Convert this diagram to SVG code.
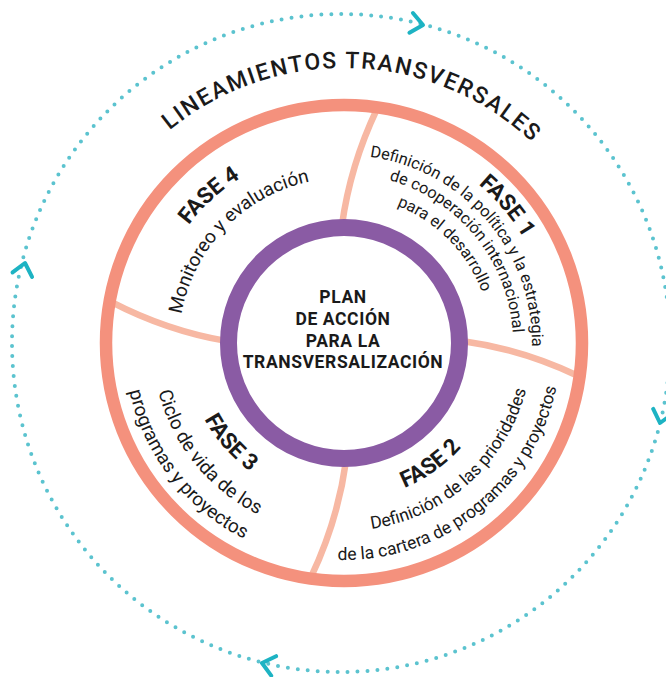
<svg xmlns="http://www.w3.org/2000/svg" xmlns:xlink="http://www.w3.org/1999/xlink" width="666" height="677" viewBox="0 0 666 677">
<style>
.t{font-family:Roboto,"Noto Sans","Liberation Sans",sans-serif;fill:#1a1a1a}
.title{font-size:23px;font-weight:500;letter-spacing:1.7px}
.fase{font-size:22.5px;font-weight:700}
.d1{font-size:16.3px;font-weight:400}
.d2{font-size:17.5px;font-weight:400}
.d3{font-size:19px;font-weight:400}
.center{font-size:17.5px;font-weight:700;letter-spacing:0.6px}
.div{fill:none;stroke:#f7b8a3;stroke-width:6.5}
.chev{fill:none;stroke:#1db3c3;stroke-width:4;stroke-linecap:round;stroke-linejoin:round}
</style>
<defs>
<path id="t275" d="M69,343 A275,275 0 0 1 619,343"/>
<path id="t208" d="M136,343 A208,208 0 0 1 552,343"/>
<path id="t188" d="M156,343 A188,188 0 0 1 532,343"/>
<path id="t169" d="M175,343 A169,169 0 0 1 513,343"/>
<path id="t147" d="M197,343 A147,147 0 0 1 491,343"/>
<path id="t195" d="M149,343 A195,195 0 0 1 539,343"/>
<path id="t165" d="M179,343 A165,165 0 0 1 509,343"/>
<path id="b157" d="M187,343 A157,157 0 0 0 501,343"/>
<path id="b188" d="M156,343 A188,188 0 0 0 532,343"/>
<path id="b217" d="M127,343 A217,217 0 0 0 561,343"/>
<path id="b159" d="M185,343 A159,159 0 0 0 503,343"/>
<path id="b192" d="M152,343 A192,192 0 0 0 536,343"/>
<path id="b220" d="M124,343 A220,220 0 0 0 564,343"/>
<path id="chevron" d="M-12,-10 L0,0 L-12,10"/>
<path id="divider" d="M342,225 Q350.2,165.4 376.8,109.3"/>
</defs>

<g id="cycle">
<circle cx="341" cy="343" r="329" fill="none" stroke="#5bc3cf" stroke-width="4" stroke-linecap="round" stroke-dasharray="0 10"/>
<use xlink:href="#chevron" href="#chevron" class="chev" transform="translate(423,25) rotate(10)"/>
<use xlink:href="#chevron" href="#chevron" class="chev" transform="translate(25,263) rotate(-77)"/>
<use xlink:href="#chevron" href="#chevron" class="chev" transform="translate(660,423) rotate(104)"/>
<use xlink:href="#chevron" href="#chevron" class="chev" transform="translate(262,663) rotate(194)"/>
</g>

<g id="connectors">
<use xlink:href="#divider" href="#divider" class="div"/>
<use xlink:href="#divider" href="#divider" class="div" transform="rotate(90,344,343)"/>
<use xlink:href="#divider" href="#divider" class="div" transform="rotate(180,344,343)"/>
<use xlink:href="#divider" href="#divider" class="div" transform="rotate(272,344,343)"/>
</g>

<g id="outer-ring">
<circle cx="344" cy="343" r="238" fill="none" stroke="#f4917d" stroke-width="12.5"/>
</g>

<g id="title">
<text class="t title" transform="rotate(2,344,343)"><textPath xlink:href="#t275" href="#t275" startOffset="50%" text-anchor="middle">LINEAMIENTOS TRANSVERSALES</textPath></text>
</g>

<g id="fase1">
<text class="t fase" transform="rotate(50,344,343)"><textPath xlink:href="#t208" href="#t208" startOffset="50%" text-anchor="middle">FASE 1</textPath></text>
<text class="t d1" transform="rotate(49.5,344,343)"><textPath xlink:href="#t188" href="#t188" startOffset="50%" text-anchor="middle">Definición de la política y la estrategia</textPath></text>
<text class="t d1" transform="rotate(51,344,343)"><textPath xlink:href="#t169" href="#t169" startOffset="50%" text-anchor="middle">de cooperación internacional</textPath></text>
<text class="t d1" transform="rotate(45.5,344,343)"><textPath xlink:href="#t147" href="#t147" startOffset="50%" text-anchor="middle">para el desarrollo</textPath></text>
</g>

<g id="fase2">
<text class="t fase" transform="rotate(-35.5,344,343)"><textPath xlink:href="#b157" href="#b157" startOffset="50%" text-anchor="middle">FASE 2</textPath></text>
<text class="t d2" transform="rotate(-42,344,343)"><textPath xlink:href="#b188" href="#b188" startOffset="50%" text-anchor="middle">Definición de las prioridades</textPath></text>
<text class="t d2" transform="rotate(-38.3,344,343)"><textPath xlink:href="#b217" href="#b217" startOffset="50%" text-anchor="middle">de la cartera de programas y proyectos</textPath></text>
</g>

<g id="fase3">
<text class="t fase" transform="rotate(48.7,344,343)"><textPath xlink:href="#b159" href="#b159" startOffset="50%" text-anchor="middle">FASE 3</textPath></text>
<text class="t d3" transform="rotate(51,344,343)"><textPath xlink:href="#b192" href="#b192" startOffset="50%" text-anchor="middle">Ciclo de vida de los</textPath></text>
<text class="t d3" transform="rotate(52.2,344,343)"><textPath xlink:href="#b220" href="#b220" startOffset="50%" text-anchor="middle">programas y proyectos</textPath></text>
</g>

<g id="fase4">
<text class="t fase" transform="rotate(-42.4,344,343)"><textPath xlink:href="#t195" href="#t195" startOffset="50%" text-anchor="middle">FASE 4</textPath></text>
<text class="t d3" transform="rotate(-46,344,343)"><textPath xlink:href="#t165" href="#t165" startOffset="50%" text-anchor="middle">Monitoreo y evaluación</textPath></text>
</g>

<g id="center">
<circle cx="344" cy="343" r="115.5" fill="#ffffff" stroke="#8a5ba4" stroke-width="17"/>
<text class="t center" text-anchor="middle"><tspan x="343" y="303">PLAN</tspan><tspan x="343" y="325">DE ACCIÓN</tspan><tspan x="343" y="347">PARA LA</tspan><tspan x="343" y="368">TRANSVERSALIZACIÓN</tspan></text>
</g>
</svg>
